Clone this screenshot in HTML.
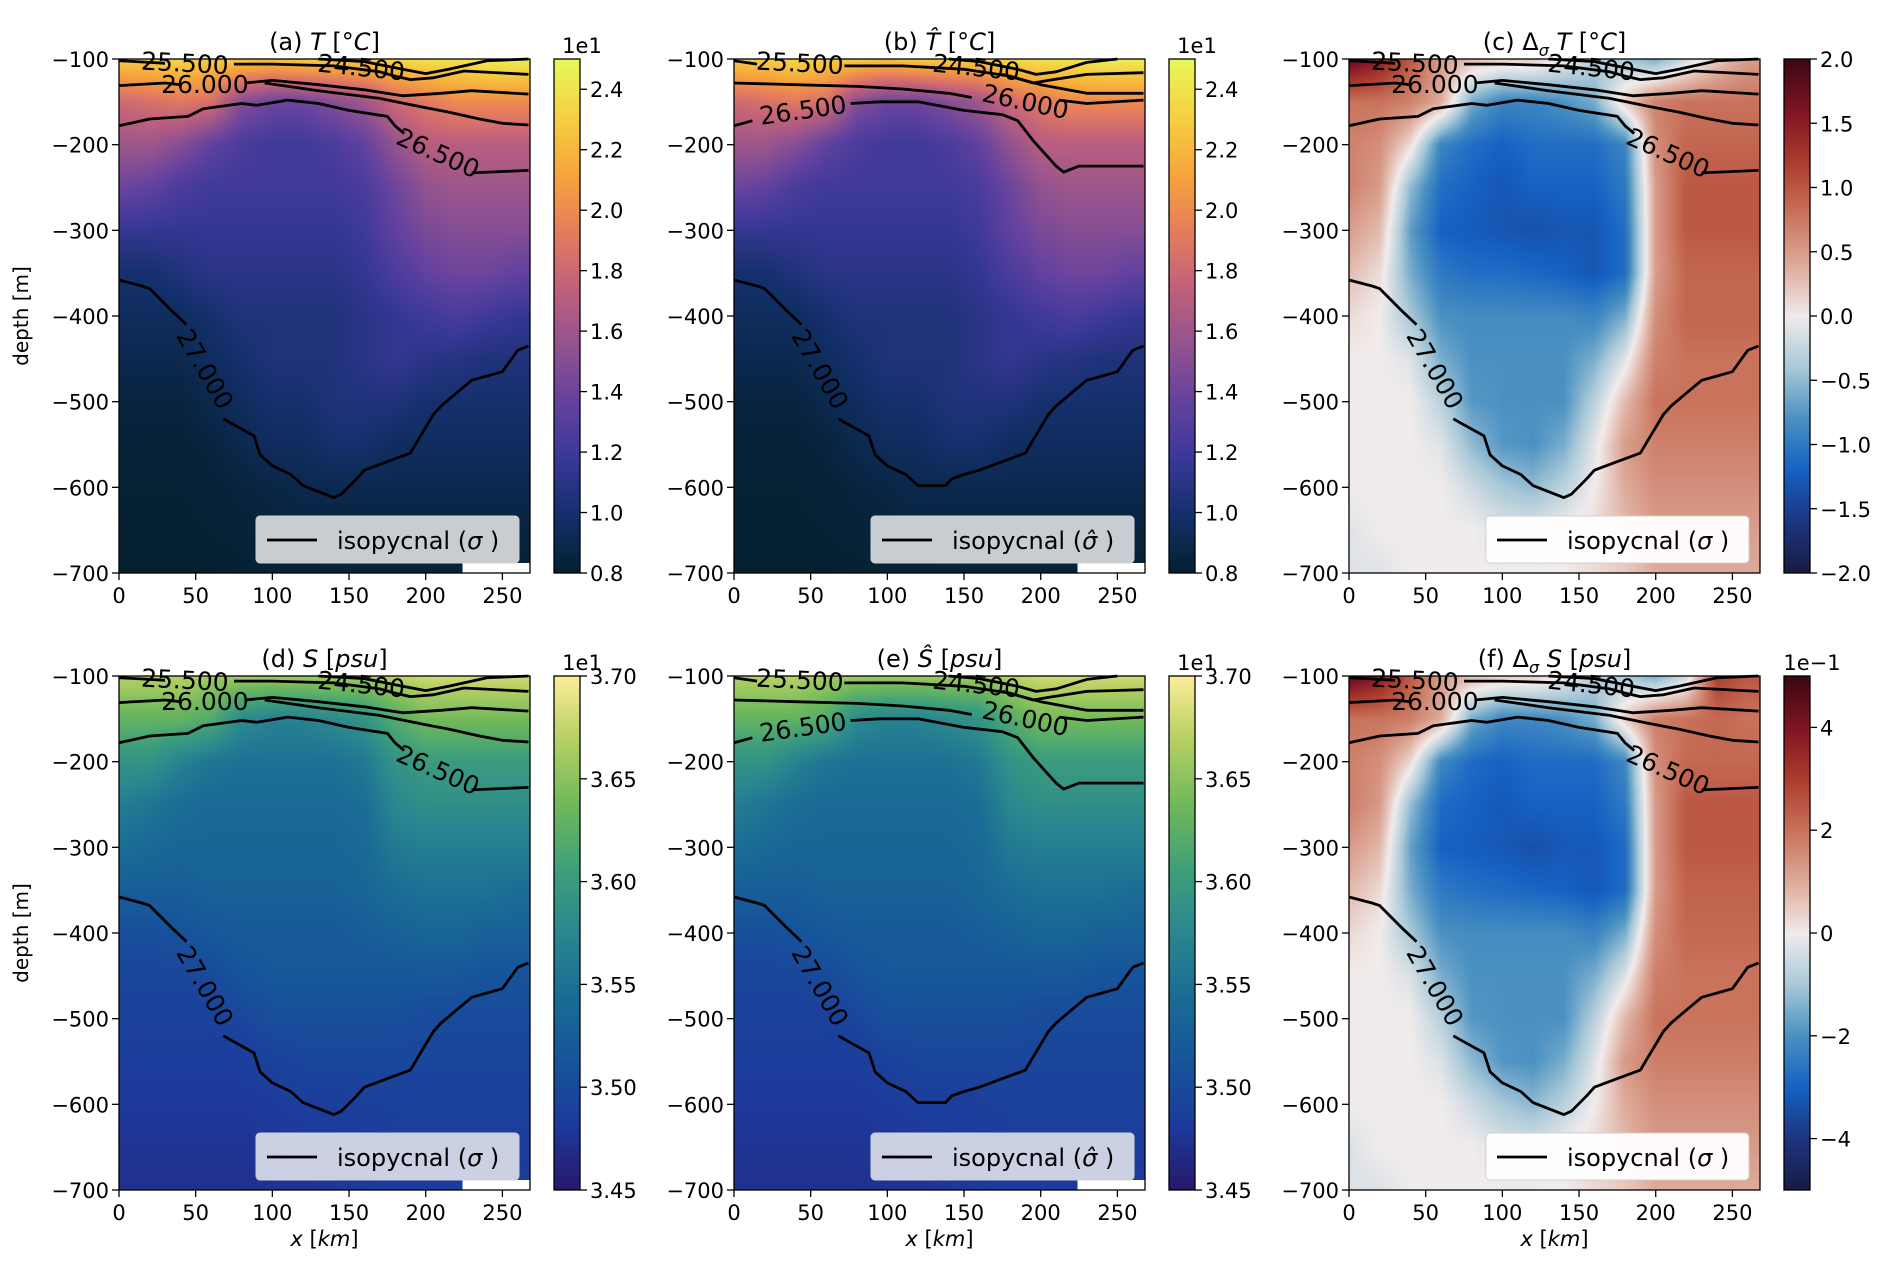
<!DOCTYPE html>
<html><head><meta charset="utf-8"><title>Isopycnal sections</title>
<style>
html,body{margin:0;padding:0;background:#fff;}
#root{position:relative;width:1892px;height:1271px;overflow:hidden;font-family:"DejaVu Sans","Liberation Sans",sans-serif;}
canvas{position:absolute;}
svg{position:absolute;left:0;top:0;}
</style></head>
<body>
<div id="root">
<svg id="ov" width="1892" height="1271"></svg>
</div>
<script>
// ---------- data ----------
const xKm=[0,20,40,60,80,100,120,140,160,180,200,220,240,260];
const depths=[-100,-150,-200,-250,-300,-350,-400,-450,-500,-550,-600,-650,-700];
const tempField=[
[23,23,23.5,23,23,22.5,23,23,23,23.5,24,24,24.5,24.5],
[18,18.5,19,18.5,15,14,14,15,16,18,19,20,20,20],
[16,16,15,13.5,12.5,12,12,12.5,13.5,15.5,17,17,17,17],
[14,13.5,12.5,12,12,12,12,12,12.5,14,15.5,16,16,16],
[11.5,11.5,11.5,11.5,11.5,11.5,11.5,11.5,12,13.5,14.5,15,15,15],
[10,10,10.5,11,11,11,11,11,11.5,12.5,13.5,14,14,13.5],
[9.5,9.5,9.5,10,10.5,10.5,10.5,10.5,11,11.5,12,12.5,12,11.5],
[9,9,9,9.5,10,10.5,10.5,10.5,11,11.5,11,10.8,10.5,10.5],
[8.5,8.5,8.5,9,9.5,10,10,10.5,10.5,10.5,10,10,10,10],
[8.3,8.3,8.3,8.5,9,9.5,9.5,10,10,9.5,9.5,9.5,9.5,9.5],
[8.2,8.2,8.2,8.3,8.5,8.7,9,9,9,9,9,9,9,9],
[8.1,8.1,8.1,8.2,8.3,8.4,8.5,8.5,8.5,8.5,8.5,8.5,8.5,8.5],
[8,8,8,8,8.1,8.2,8.2,8.3,8.3,8.3,8.3,8.3,8.3,8.3]];
const saltField=[
[36.7,36.7,36.7,36.6,36.6,36.6,36.6,36.6,36.6,36.7,36.8,36.8,36.8,36.8],
[36.3,36.3,36.3,36.2,35.8,35.7,35.7,35.8,35.9,36.2,36.4,36.4,36.4,36.4],
[35.9,35.9,35.7,35.55,35.5,35.5,35.5,35.5,35.6,35.9,36.0,36.0,36.0,36.0],
[35.65,35.55,35.45,35.4,35.4,35.4,35.4,35.4,35.45,35.75,35.85,35.85,35.85,35.85],
[35.45,35.4,35.35,35.35,35.35,35.35,35.35,35.35,35.4,35.6,35.65,35.65,35.65,35.65],
[35.25,35.25,35.25,35.3,35.3,35.3,35.3,35.3,35.35,35.45,35.5,35.5,35.5,35.45],
[35.05,35.05,35.1,35.15,35.2,35.2,35.2,35.2,35.25,35.3,35.35,35.35,35.3,35.3],
[34.95,34.95,34.95,35.0,35.1,35.15,35.15,35.15,35.15,35.15,35.15,35.15,35.1,35.1],
[34.9,34.9,34.9,34.9,34.95,35.05,35.05,35.05,35.05,35.05,35.0,35.0,35.0,35.0],
[34.85,34.85,34.85,34.85,34.85,34.9,34.95,34.95,34.95,34.95,34.95,34.95,34.95,34.95],
[34.8,34.8,34.8,34.8,34.8,34.82,34.85,34.85,34.88,34.9,34.9,34.9,34.9,34.9],
[34.75,34.75,34.75,34.75,34.75,34.78,34.8,34.8,34.82,34.85,34.85,34.85,34.85,34.85],
[34.72,34.72,34.72,34.72,34.72,34.75,34.75,34.78,34.8,34.82,34.82,34.82,34.82,34.82]];
const dTempField=[
[1.8,1.5,1.0,0.5,0.3,0.2,0.2,0.0,-0.3,-0.4,-0.6,-0.2,0.2,0.5],
[0.8,0.8,0.7,0.4,-0.6,-0.9,-0.9,-0.8,-0.6,0.2,0.7,0.8,0.8,0.8],
[0.7,0.6,0.1,-0.9,-1.1,-1.2,-1.1,-1.1,-1.1,-0.9,0.6,0.9,0.9,0.9],
[0.7,0.5,-0.5,-1.1,-1.2,-1.3,-1.2,-1.2,-1.2,-1.0,0.5,1.0,1.0,1.0],
[0.5,0.3,-0.7,-1.2,-1.25,-1.3,-1.35,-1.3,-1.3,-1.1,0.5,1.0,1.0,1.0],
[0.3,0.1,-0.6,-1.0,-1.1,-1.1,-1.15,-1.2,-1.3,-1.1,0.5,0.9,0.9,0.9],
[0.1,0.0,-0.4,-0.8,-0.85,-0.85,-0.85,-0.85,-0.9,-0.6,0.6,0.9,0.9,0.9],
[0.0,0.0,-0.1,-0.6,-0.8,-0.8,-0.8,-0.8,-0.6,-0.1,0.7,0.8,0.8,0.8],
[0.0,0.0,0.0,-0.3,-0.75,-0.8,-0.8,-0.8,-0.3,0.3,0.8,0.8,0.8,0.8],
[0.0,0.0,0.0,-0.1,-0.5,-0.75,-0.8,-0.6,-0.1,0.5,0.7,0.7,0.7,0.7],
[0.0,0.0,0.0,0.0,-0.2,-0.4,-0.5,-0.3,0.0,0.4,0.6,0.6,0.6,0.6],
[-0.1,0.0,0.0,0.0,0.0,-0.1,-0.1,0.0,0.1,0.3,0.5,0.5,0.5,0.5],
[-0.1,-0.1,0.0,0.0,0.0,0.0,0.0,0.0,0.1,0.2,0.4,0.4,0.4,0.4]];
const dSaltField=[
[4.5,3.8,2.5,1.3,0.8,0.5,0.5,0.0,-0.8,-1.0,-1.5,-0.5,3.0,2.5],
[2.0,2.0,1.8,1.0,-1.5,-2.2,-2.2,-2.0,-1.5,0.5,1.8,2.0,2.2,2.0],
[1.8,1.5,0.3,-2.2,-2.8,-3.0,-2.8,-2.8,-2.8,-2.2,1.5,2.2,2.2,2.2],
[1.8,1.3,-1.2,-2.8,-3.0,-3.2,-3.0,-3.0,-3.0,-2.5,1.3,2.5,2.5,2.5],
[1.3,0.8,-1.7,-3.0,-3.1,-3.2,-3.4,-3.2,-3.2,-2.8,1.3,2.5,2.5,2.5],
[0.8,0.3,-1.5,-2.5,-2.7,-2.8,-2.9,-3.0,-3.2,-2.8,1.3,2.3,2.3,2.3],
[0.3,0.0,-1.0,-2.0,-2.1,-2.1,-2.1,-2.1,-2.3,-1.5,1.5,2.2,2.2,2.2],
[0.0,0.0,-0.3,-1.5,-2.0,-2.0,-2.0,-2.0,-1.5,-0.3,1.8,2.0,2.0,2.0],
[0.0,0.0,0.0,-0.8,-1.9,-2.0,-2.0,-2.0,-0.8,0.8,2.0,2.0,2.0,2.0],
[0.0,0.0,0.0,-0.3,-1.3,-1.9,-2.0,-1.5,-0.3,1.3,1.8,1.8,1.8,1.8],
[0.0,0.0,0.0,0.0,-0.5,-1.0,-1.3,-0.8,0.0,1.0,1.5,1.5,1.5,1.5],
[-0.3,0.0,0.0,0.0,0.0,-0.3,-0.3,0.0,0.3,0.8,1.3,1.3,1.3,1.3],
[-0.3,-0.3,0.0,0.0,0.0,0.0,0.0,0.0,0.3,0.5,1.0,1.0,1.0,1.0]];
// isopycnal contours (x km, depth m); null = label gap
const isoA_x=[
[130,160,185,200,215,240,267],
[0,20,30,null,75,100,140,170,180,190,205,225,267],
[0,30,40,null,82,100,130,160,185,210,230,267],
[95,130,170,200,215,235,250,267],
[0,20,45,55,80,90,110,130,150,175,180,186,null,230,267],
[0,15,20,35,44,null,68,75,88,92,100,112,120,140,145,155,160,175,190,195,200,205,210,220,230,240,250,260,267]];
const isoA_d=[
[-100,-103,-112,-117,-112,-102,-100],
[-102,-104,-105,null,-106,-106,-108,-115,-120,-124,-122,-114,-118],
[-131,-128,-130,null,-128,-125,-130,-136,-143,-140,-137,-141],
[-128,-137,-146,-157,-162,-170,-175,-177],
[-178,-170,-167,-158,-152,-154,-148,-152,-160,-167,-178,-187,null,-233,-230],
[-358,-365,-368,-395,-410,null,-520,-527,-540,-562,-575,-585,-598,-612,-608,-590,-580,-570,-560,-545,-530,-515,-505,-490,-475,-470,-465,-440,-435]];
const isoB_x=[
[140,160,185,197,210,230,250],
[0,15,null,72,110,150,180,195,205,230,267],
[0,40,80,110,140,155,null,212,230,267],
[175,200,215,230,267],
[0,12,null,76,95,120,150,175,185,195,210,215,225,267],
[0,15,20,35,44,null,68,75,88,92,100,112,120,138,142,150,160,175,190,195,200,205,210,220,230,240,250,260,267]];
const isoB_d=[
[-100,-103,-112,-118,-115,-104,-100],
[-102,-106,null,-108,-108,-112,-120,-128,-125,-118,-116],
[-128,-130,-132,-135,-140,-145,null,-148,-152,-148],
[-118,-130,-135,-140,-140],
[-178,-172,null,-152,-150,-150,-160,-165,-172,-195,-225,-232,-225,-225],
[-358,-365,-368,-395,-410,null,-520,-527,-540,-562,-575,-585,-598,-598,-590,-585,-580,-570,-560,-545,-530,-515,-505,-490,-475,-470,-465,-440,-435]];
const labelsA=[["25.500",43,-105,3],["24.500",158,-110,6],["26.000",56,-130,0],["26.500",208,-210,24],["27.000",56,-462,60]];
const labelsB=[["25.500",43,-105,3],["24.500",158,-110,6],["26.500",45,-160,-8],["26.000",190,-150,12],["27.000",56,-462,60]];

// ---------- colormaps ----------
const CM={
thermal:["#04202f","#13306b","#3a3899","#65429f","#93538f","#c2617c","#e67e5c","#f7a63c","#f6d042","#e7fa5a"],
haline:["#29186b","#1d3a9c","#16559a","#1a6c95","#2a8790","#3fa07a","#70b95c","#b5d063","#fdee99"],
balance:["#181c43","#1e3580","#1562c3","#4a91c2","#a9c9d8","#f1ecec","#deab9b","#c9735c","#ad3d2f","#7f1423","#3c0912"]};
function hex(h){return [parseInt(h.substr(1,2),16),parseInt(h.substr(3,2),16),parseInt(h.substr(5,2),16)];}
function cmap(name,t){const s=CM[name];t=Math.max(0,Math.min(1,t));const f=t*(s.length-1);const i=Math.min(s.length-2,Math.floor(f));const u=f-i;const a=hex(s[i]),b=hex(s[i+1]);return [a[0]+(b[0]-a[0])*u,a[1]+(b[1]-a[1])*u,a[2]+(b[2]-a[2])*u];}

// ---------- layout ----------
const colL=[119,734,1349], rowT=[59,676], PW=411, PH=514, XMAX=268;
const NS="http://www.w3.org/2000/svg";
const ov=document.getElementById('ov');
function el(tag,attrs,parent,txt){const e=document.createElementNS(NS,tag);for(const k in attrs)e.setAttribute(k,attrs[k]);if(txt!==undefined)e.textContent=txt;(parent||ov).appendChild(e);return e;}
function sample(F,xk,dep){
  let xi=Math.min(xk,260)/20; let di=(-100-dep)/50;
  let i=Math.min(12,Math.floor(xi)), j=Math.min(11,Math.floor(di));
  let u=xi-i, v=di-j; if(i>=13){i=12;u=1;}
  const a=F[j][i],b=F[j][Math.min(13,i+1)],c=F[j+1][i],d=F[j+1][Math.min(13,i+1)];
  return (a*(1-u)+b*u)*(1-v)+(c*(1-u)+d*u)*v;
}
const panels=[
 {id:"a",F:tempField,cm:"thermal",vmin:8,vmax:25,sym:"T",delta:false,unit:"°C",hat:false,iso:"A",legendBg:"#d3d7da",ticks:[0.8,1.0,1.2,1.4,1.6,1.8,2.0,2.2,2.4],tscale:10,fmt:1,exp:"1e1",gap:true},
 {id:"b",F:tempField,cm:"thermal",vmin:8,vmax:25,sym:"T̂",delta:false,unit:"°C",hat:true,iso:"B",legendBg:"#d3d7da",ticks:[0.8,1.0,1.2,1.4,1.6,1.8,2.0,2.2,2.4],tscale:10,fmt:1,exp:"1e1",gap:true},
 {id:"c",F:dTempField,cm:"balance",vmin:-2,vmax:2,sym:"T",delta:true,unit:"°C",hat:false,iso:"A",legendBg:"#ffffff",ticks:[-2,-1.5,-1,-0.5,0,0.5,1,1.5,2],tscale:1,fmt:1,exp:"",gap:false},
 {id:"d",F:saltField,cm:"haline",vmin:34.5,vmax:37,sym:"S",delta:false,unit:"psu",hat:false,iso:"A",legendBg:"#d5d8e6",ticks:[3.45,3.5,3.55,3.6,3.65,3.7],tscale:10,fmt:2,exp:"1e1",gap:true},
 {id:"e",F:saltField,cm:"haline",vmin:34.5,vmax:37,sym:"Ŝ",delta:false,unit:"psu",hat:true,iso:"B",legendBg:"#d5d8e6",ticks:[3.45,3.5,3.55,3.6,3.65,3.7],tscale:10,fmt:2,exp:"1e1",gap:true},
 {id:"f",F:dSaltField,cm:"balance",vmin:-5,vmax:5,sym:"S",delta:true,unit:"psu",hat:false,iso:"A",legendBg:"#ffffff",ticks:[-4,-2,0,2,4],tscale:1,fmt:0,exp:"1e−1",gap:false}];
const letters=["(a) ","(b) ","(c) ","(d) ","(e) ","(f) "];

panels.forEach((p,k)=>{
  const L=colL[k%3], T=rowT[Math.floor(k/3)];
  const sx=x=>L+x/XMAX*PW, sy=d=>T+(-100-d)/600*PH;
  const cv=document.createElement('canvas');cv.width=PW;cv.height=PH;cv.style.left=L+'px';cv.style.top=T+'px';
  
  
  document.getElementById('root').insertBefore(cv,ov);
  const ctx=cv.getContext('2d');const img=ctx.createImageData(PW,PH);
  for(let py=0;py<PH;py++){const dep=-100-(py+0.5)/PH*600;for(let px=0;px<PW;px++){const xk=(px+0.5)/PW*XMAX;
    const v=sample(p.F,xk,dep);const c=cmap(p.cm,(v-p.vmin)/(p.vmax-p.vmin));const o=(py*PW+px)*4;img.data[o]=c[0];img.data[o+1]=c[1];img.data[o+2]=c[2];img.data[o+3]=255;}}
  ctx.putImageData(img,0,0);
  const CB=L+435, CW=26;
  const cb=document.createElement('canvas');cb.width=CW;cb.height=PH;cb.style.left=CB+'px';cb.style.top=T+'px';
  
  
  document.getElementById('root').insertBefore(cb,ov);
  const c2=cb.getContext('2d');
  for(let py=0;py<PH;py++){const c=cmap(p.cm,1-py/PH);c2.fillStyle=`rgb(${c[0]|0},${c[1]|0},${c[2]|0})`;c2.fillRect(0,py,CW,1);}
  const g=el('g',{});
  if(p.gap){const r=el('rect',{x:sx(224),y:T+PH-10,width:sx(XMAX)-sx(224),height:10,fill:'#fff'},g);}
  const IX=p.iso==="A"?isoA_x:isoB_x, ID=p.iso==="A"?isoA_d:isoB_d;
  IX.forEach((xs,li)=>{let d="",pen=false;xs.forEach((x,i)=>{if(x===null){pen=false;return;}d+=(pen?"L":"M")+sx(x).toFixed(1)+","+sy(ID[li][i]).toFixed(1);pen=true;});
    const pth=el('path',{d:d,fill:'none',stroke:'#000','stroke-width':2.8,'stroke-linejoin':'round'},g);
    
    });
  (p.iso==="A"?labelsA:labelsB).forEach(lb=>{const t=el('text',{x:sx(lb[1]),y:sy(lb[2]),'font-size':25,'text-anchor':'middle','dominant-baseline':'central',transform:`rotate(${lb[3]} ${sx(lb[1])} ${sy(lb[2])})`},g,lb[0]);
    
    });
  el('rect',{x:L,y:T,width:PW,height:PH,fill:'none',stroke:'#000','stroke-width':1.3},g);
  el('rect',{x:CB,y:T,width:CW,height:PH,fill:'none',stroke:'#000','stroke-width':1.3},g);
  for(let d=-100;d>=-700;d-=100){const y=sy(d);el('line',{x1:L-7,x2:L,y1:y,y2:y,stroke:'#000','stroke-width':1.3},g);
    const t=el('text',{x:L-10,y:y+8,'font-size':21,'text-anchor':'end'},g,'\u2212'+(-d));
    
    }
  for(let x=0;x<=250;x+=50){const X=sx(x);el('line',{x1:X,x2:X,y1:T+PH,y2:T+PH+7,stroke:'#000','stroke-width':1.3},g);
    const t=el('text',{x:X,y:T+PH+30,'font-size':21,'text-anchor':'middle'},g,String(x));
    
    }
  p.ticks.forEach(tv=>{const v=tv*p.tscale;const y=T+(1-(v-p.vmin)/(p.vmax-p.vmin))*PH;
    el('line',{x1:CB+CW,x2:CB+CW+7,y1:y,y2:y,stroke:'#000','stroke-width':1.3},g);
    let s=tv.toFixed(p.fmt);if(tv<0)s='\u2212'+Math.abs(tv).toFixed(p.fmt);
    const t=el('text',{x:CB+CW+10,y:y+8,'font-size':21},g,s);
    
    });
  if(p.exp){const t=el('text',{x:CB+CW+2,y:T-6,'font-size':21,'text-anchor':'middle'},g,p.exp);
    
    }
  const tt=el('text',{x:L+PW/2,y:T-9,'font-size':24,'text-anchor':'middle'},g);
  
  
  el('tspan',{},tt,letters[k]+(p.delta?'Δ':''));
  if(p.delta){el('tspan',{'font-style':'italic','font-size':16,dy:6},tt,'σ');el('tspan',{dy:-6},tt,' ');}
  el('tspan',{'font-style':'italic'},tt,p.sym);el('tspan',{},tt,'  [');el('tspan',{'font-style':'italic'},tt,p.unit);el('tspan',{},tt,']');
  const lg=el('g',{},g);
  
  
  el('rect',{x:L+137,y:T+457,width:263,height:47,rx:4,fill:p.legendBg,'fill-opacity':0.95,stroke:'#d0d0d0','stroke-width':1},lg);
  el('line',{x1:L+148,x2:L+198,y1:T+481,y2:T+481,stroke:'#000','stroke-width':2.8},lg);
  const lt=el('text',{x:L+218,y:T+490,'font-size':24},lg,'isopycnal (');
  el('tspan',{'font-style':'italic'},lt,p.hat?'σ̂':'σ');el('tspan',{},lt,'  )');
});
[0,1].forEach(r=>{const y=rowT[r]+PH/2;const t=el('text',{x:28,y:y,'font-size':20,'text-anchor':'middle',transform:`rotate(-90 28 ${y})`},ov,'depth [m]');
  
  });
colL.forEach(L=>{const t=el('text',{x:L+PW/2,y:rowT[1]+PH+56,'font-size':21,'text-anchor':'middle'},ov);
  
  
  el('tspan',{'font-style':'italic'},t,'x');el('tspan',{},t,' [');el('tspan',{'font-style':'italic'},t,'km');el('tspan',{},t,']');});
</script>
</body></html>
